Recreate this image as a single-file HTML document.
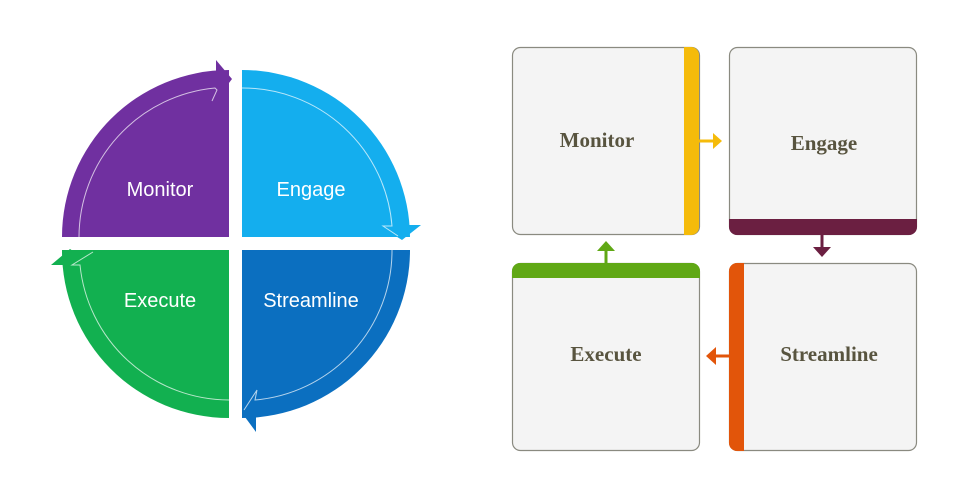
<!DOCTYPE html>
<html><head><meta charset="utf-8"><style>
html,body{margin:0;padding:0;background:#fff;width:980px;height:490px;overflow:hidden}
</style></head><body>
<svg width="980" height="490" viewBox="0 0 980 490" xmlns="http://www.w3.org/2000/svg">
<!-- left cycle -->
<path d="M229,237 L62,237 A167,167 0 0 1 229,70 Z" fill="#7030a0"/>
<polygon points="216,60 232,79 216,100" fill="#7030a0"/>
<path d="M242,237 L242,70 A168,168 0 0 1 410,237 Z" fill="#14aeee"/>
<polygon points="378,225 421,225 402,240" fill="#14aeee"/>
<path d="M242,250 L410,250 A168,168 0 0 1 242,418 Z" fill="#0b6fc0"/>
<polygon points="256,392 242,413 256,432" fill="#0b6fc0"/>
<path d="M229,250 L229,418 A167,167 0 0 1 62,250 Z" fill="#12b050"/>
<polygon points="51,265 70,249 94,265" fill="#12b050"/>
<g fill="none" stroke="#fff" stroke-opacity="0.7" stroke-width="1">
<path d="M79,237 A150,150 0 0 1 215,88 L217,90 L212,101"/>
<path d="M242,88 A150,150 0 0 1 392,226 L383,226 L398,236"/>
<path d="M392,250 A150,150 0 0 1 255,400 L257,390 L244,410"/>
<path d="M229,400 A150,150 0 0 1 80,265 L72,265 L93,252"/>
</g>
<g font-family="'Liberation Sans',sans-serif" font-size="20" fill="#fff" text-anchor="middle">
<text x="160" y="196">Monitor</text>
<text x="311" y="196">Engage</text>
<text x="160" y="307">Execute</text>
<text x="311" y="307">Streamline</text>
</g>
<!-- right grid -->
<g stroke="#8a8a80" stroke-width="1.2" fill="#f4f4f4">
<rect x="512.5" y="47.5" width="187" height="187" rx="8"/>
<rect x="729.5" y="47.5" width="187" height="187" rx="8"/>
<rect x="512.5" y="263.5" width="187" height="187" rx="8"/>
<rect x="729.5" y="263.5" width="187" height="187" rx="8"/>
</g>
<path d="M684,47 h7 a8,8 0 0 1 8,8 v172 a8,8 0 0 1 -8,8 h-7 Z" fill="#f5bb0a"/>
<path d="M729,219 h188 v8 a8,8 0 0 1 -8,8 h-172 a8,8 0 0 1 -8,-8 Z" fill="#6b1f41"/>
<path d="M512,278 v-7 a8,8 0 0 1 8,-8 h172 a8,8 0 0 1 8,8 v7 Z" fill="#60a815"/>
<path d="M744,263 v188 h-7 a8,8 0 0 1 -8,-8 v-172 a8,8 0 0 1 8,-8 Z" fill="#e2550a"/>
<!-- connectors -->
<line x1="699" y1="141" x2="716" y2="141" stroke="#f5bb0a" stroke-width="3"/>
<polygon points="713,133 722,141 713,149" fill="#f5bb0a"/>
<line x1="822" y1="235" x2="822" y2="250" stroke="#6b1f41" stroke-width="3"/>
<polygon points="813,247 831,247 822,257" fill="#6b1f41"/>
<line x1="606" y1="263" x2="606" y2="249" stroke="#60a815" stroke-width="3"/>
<polygon points="597,251 615,251 606,241" fill="#60a815"/>
<line x1="729" y1="356" x2="713" y2="356" stroke="#e2550a" stroke-width="3"/>
<polygon points="716,347 706,356 716,365" fill="#e2550a"/>
<g font-family="'Liberation Serif',serif" font-weight="bold" font-size="21" fill="#58543f" text-anchor="middle">
<text x="597" y="147">Monitor</text>
<text x="824" y="150">Engage</text>
<text x="606" y="361">Execute</text>
<text x="829" y="361">Streamline</text>
</g>
</svg>
</body></html>
